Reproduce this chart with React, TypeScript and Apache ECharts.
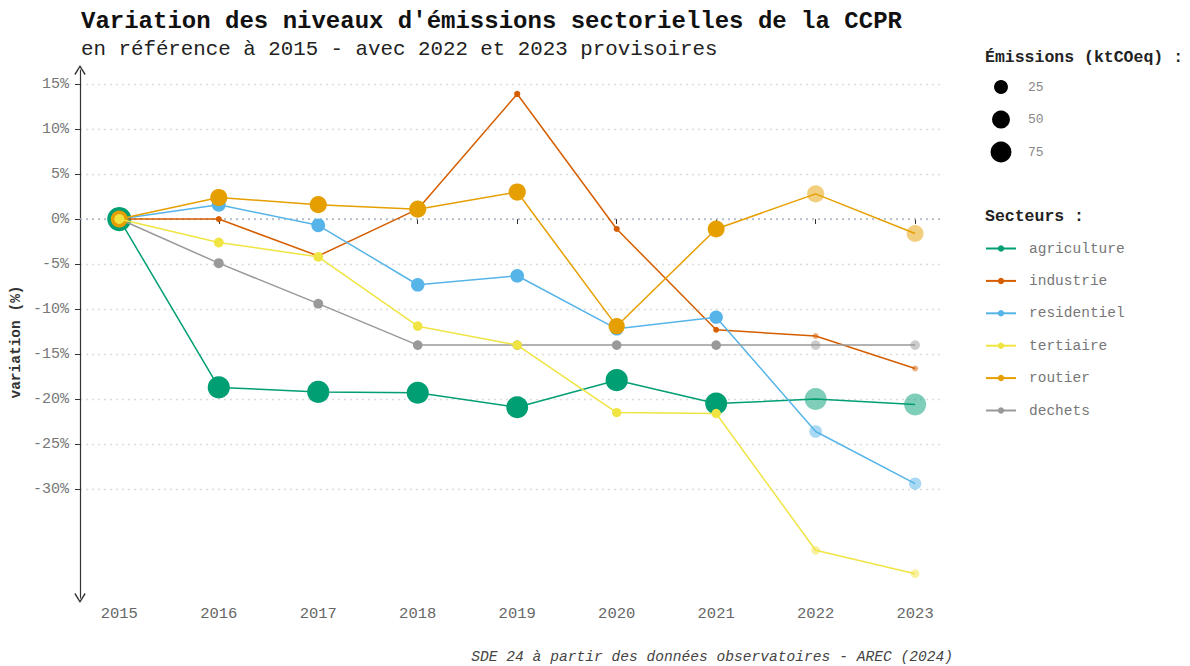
import React, { useEffect, useRef } from "react";
import * as echarts from "echarts";

const years = [2015, 2016, 2017, 2018, 2019, 2020, 2021, 2022, 2023];
const provisionalYears = [2022, 2023];

const sectorNames = ["agriculture", "industrie", "residentiel", "tertiaire", "routier", "dechets"];
const sectorColors = ["#009E73", "#D55E00", "#56B4E9", "#F0E442", "#E69F00", "#999999"];

// variation in % vs 2015
const agricultureVar = [0, -18.7, -19.2, -19.3, -20.9, -17.9, -20.5, -20.0, -20.6];
const industrieVar = [0, 0, -4.1, 1.1, 13.9, -1.1, -12.3, -13.0, -16.6];
const residentielVar = [0, 1.6, -0.7, -7.3, -6.3, -12.2, -10.9, -23.6, -29.4];
const tertiaireVar = [0, -2.6, -4.2, -11.9, -14.0, -21.5, -21.6, -36.8, -39.4];
const routierVar = [0, 2.4, 1.6, 1.1, 3.0, -11.9, -1.1, 2.8, -1.6];
const dechetsVar = [0, -4.9, -9.4, -14.0, -14.0, -14.0, -14.0, -14.0, -14.0];

// emissions in ktCO2eq (point size)
const agricultureEm = [108, 88, 87, 87, 85, 89, 86, 86, 86];
const industrieEm = [0.8, 0.8, 0.8, 0.8, 0.9, 0.8, 0.7, 0.7, 0.7];
const residentielEm = [25, 25.4, 24.8, 23.2, 23.4, 22, 22.3, 19.1, 17.7];
const tertiaireEm = [8.5, 8.3, 8.1, 7.5, 7.3, 6.7, 6.7, 5.4, 5.1];
const routierEm = [44, 45, 44.7, 44.5, 45.3, 38.8, 43.5, 45.2, 43.3];
const dechetsEm = [9, 8.6, 8.2, 7.7, 7.7, 7.7, 7.7, 7.7, 7.7];

const sizeLegendValues = [25, 50, 75];
const yTickValues = [-30, -25, -20, -15, -10, -5, 0, 5, 10, 15];

const variations = [agricultureVar, industrieVar, residentielVar, tertiaireVar, routierVar, dechetsVar];
const emissions = [agricultureEm, industrieEm, residentielEm, tertiaireEm, routierEm, dechetsEm];
// drawing order (bottom to top)
const drawOrder = [0, 1, 2, 5, 4, 3];

const FONT = "'Liberation Mono', 'DejaVu Sans Mono', monospace";

const sizeOf = (v: number) => 4.4 + 1.9 * Math.sqrt(v);

export default function App() {
  const ref = useRef<HTMLDivElement>(null);
  useEffect(() => {
    if (!ref.current) return;
    const chart = echarts.init(ref.current, undefined, { renderer: "svg" });

    const series: any[] = drawOrder.map((i, k) => ({
      name: sectorNames[i],
      type: "line",
      color: sectorColors[i],
      symbol: "circle",
      showSymbol: true,
      lineStyle: { width: 1.5, color: sectorColors[i] },
      itemStyle: { color: sectorColors[i] },
      emphasis: { disabled: true },
      z: 2 + k,
      data: years.map((y, j) => ({
        value: [y, variations[i][j]],
        symbolSize: sizeOf(emissions[i][j]),
        itemStyle: { opacity: provisionalYears.includes(y) ? 0.5 : 1 },
      })),
      markLine:
        k === 0
          ? {
              silent: true,
              symbol: "none",
              label: { show: false },
              lineStyle: { type: [2, 4], color: "#aab6c8", width: 1.5 },
              data: [{ yAxis: 0 }],
              z: 1,
            }
          : undefined,
    }));

    const sizeLegendGraphics: any[] = [];
    sizeLegendValues.forEach((v, idx) => {
      const cy = 87 + idx * 32.5;
      sizeLegendGraphics.push({
        type: "circle",
        shape: { cx: 1001, cy, r: sizeOf(v) / 2 },
        style: { fill: "#000" },
      });
      sizeLegendGraphics.push({
        type: "text",
        x: 1028,
        y: cy,
        style: {
          text: String(v),
          font: `13px ${FONT}`,
          fill: "#888",
          verticalAlign: "middle",
        },
      });
    });

    const option: any = {
      animation: false,
      backgroundColor: "#fff",
      title: {
        text: "Variation des niveaux d'émissions sectorielles de la CCPR",
        subtext: "en référence à 2015 - avec 2022 et 2023 provisoires",
        left: 76,
        top: 4,
        itemGap: 6,
        textStyle: { fontFamily: FONT, fontSize: 24, fontWeight: "bold", color: "#111" },
        subtextStyle: { fontFamily: FONT, fontSize: 20.8, color: "#222" },
      },
      legend: {
        data: sectorNames,
        orient: "vertical",
        left: 985,
        top: 241,
        padding: 0,
        itemWidth: 30,
        itemHeight: 8,
        itemGap: 17.4,
        selectedMode: false,
        textStyle: { fontFamily: FONT, fontSize: 14.5, color: "#777", padding: [0, 0, 0, 8] },
      },
      grid: { left: 80, top: 70, width: 860, height: 528, containLabel: false },
      xAxis: {
        type: "value",
        min: 2014.605,
        max: 2023.25,
        axisLine: { show: false },
        axisTick: { show: true, length: 5, lineStyle: { color: "#333" }, customValues: years },
        axisLabel: {
          customValues: years,
          margin: 8,
          fontFamily: FONT,
          fontSize: 15.5,
          color: "#666",
          formatter: (v: number) => String(Math.round(v)),
        },
        splitLine: { show: false },
      },
      yAxis: {
        type: "value",
        min: -42.1,
        max: 16.56,
        axisLine: {
          show: true,
          onZero: false,
          lineStyle: { color: "#333", width: 1.2 },
          symbol: [
            "path://M5 0 L10 8 L9 8.8 L5 2.2 L1 8.8 L0 8 Z",
            "path://M5 0 L10 8 L9 8.8 L5 2.2 L1 8.8 L0 8 Z",
          ],
          symbolSize: [12, 10],
        },
        axisTick: { show: true, length: 5, lineStyle: { color: "#333" }, customValues: yTickValues },
        axisLabel: {
          customValues: yTickValues,
          margin: 11,
          fontFamily: FONT,
          fontSize: 15,
          color: "#777",
          formatter: (v: number) => `${Math.round(v)}%`,
        },
        splitLine: { show: true, lineStyle: { type: [2, 4], color: "#dcdcdc", width: 1.3 } },
      },
      graphic: [
        {
          type: "text",
          x: 16,
          y: 342,
          rotation: Math.PI / 2,
          style: {
            text: "variation (%)",
            font: `bold 14.5px ${FONT}`,
            fill: "#333",
            align: "center",
            verticalAlign: "middle",
          },
        },
        {
          type: "text",
          x: 985,
          y: 57,
          style: {
            text: "Émissions (ktCOeq) :",
            font: `bold 16.5px ${FONT}`,
            fill: "#222",
            verticalAlign: "middle",
          },
        },
        {
          type: "text",
          x: 985,
          y: 216,
          style: {
            text: "Secteurs :",
            font: `bold 16.5px ${FONT}`,
            fill: "#222",
            verticalAlign: "middle",
          },
        },
        ...sizeLegendGraphics,
        {
          type: "text",
          x: 953,
          y: 657,
          style: {
            text: "SDE 24 à partir des données observatoires - AREC (2024)",
            font: `italic 14.6px ${FONT}`,
            fill: "#444",
            align: "right",
            verticalAlign: "middle",
          },
        },
      ],
      series,
    };
    chart.setOption(option);
    return () => chart.dispose();
  }, []);
  return (
    <div
      ref={ref}
      style={{ position: "fixed", left: 0, top: 0, width: 1190, height: 666, background: "#fff" }}
    />
  );
}
